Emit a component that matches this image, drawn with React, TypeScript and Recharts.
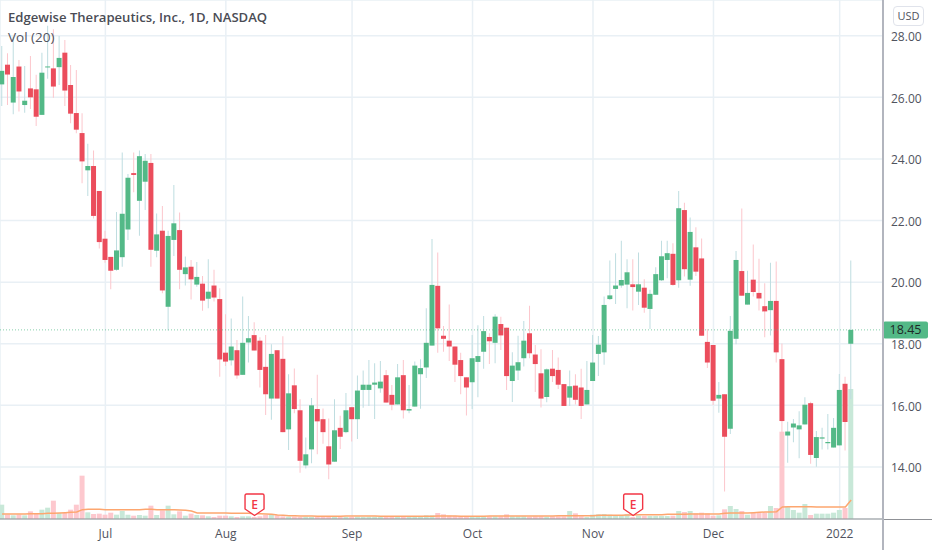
import React from 'react';
import { ComposedChart, Bar, Line, Cell, XAxis, YAxis, CartesianGrid, ReferenceLine, ReferenceDot } from 'recharts';

const opens = [26.42,27.06,25.83,27.00,25.75,26.29,26.26,25.43,26.97,26.94,26.98,27.45,26.40,25.49,24.84,23.63,23.77,22.96,21.41,20.82,20.40,20.81,21.71,23.54,22.64,23.26,23.87,21.02,21.67,19.20,21.37,21.69,20.26,20.50,19.92,19.95,19.46,19.89,19.45,17.71,17.46,17.79,16.99,18.04,18.28,18.10,17.25,16.22,17.79,17.51,15.22,16.65,15.84,14.05,14.57,15.88,15.55,14.67,14.17,15.27,15.13,15.94,15.55,16.50,16.50,16.67,16.55,16.98,16.34,16.03,16.98,15.83,15.96,17.01,17.23,17.94,19.88,18.26,18.10,17.91,17.47,16.91,16.75,17.41,17.74,18.22,18.03,18.64,18.52,16.79,17.13,17.53,18.34,17.65,17.04,16.27,17.19,17.15,16.69,16.25,16.64,16.58,16.03,16.79,17.67,17.72,19.45,19.78,19.89,19.92,19.93,19.69,19.82,19.13,19.59,20.06,20.72,20.92,20.06,22.34,20.08,21.13,20.77,18.06,17.96,16.22,16.36,15.24,18.16,20.36,19.27,20.08,19.65,19.22,19.09,19.39,17.50,15.02,15.28,15.22,15.38,16.07,14.29,14.92,14.77,14.63,14.70,16.70,18.00];
const highs = [27.67,27.43,27.97,27.21,27.02,27.34,26.73,27.45,28.32,28.21,27.99,27.86,27.05,26.89,25.48,24.49,24.27,22.96,21.67,20.82,22.28,24.21,23.51,24.21,24.27,24.16,24.16,22.23,22.47,21.67,23.15,22.26,20.83,20.72,20.65,20.20,20.74,20.40,19.80,18.96,18.82,18.12,19.53,18.90,18.70,18.21,18.28,17.98,17.79,18.24,17.01,17.20,16.20,14.96,16.24,16.99,15.90,15.57,16.20,15.66,16.40,15.94,16.97,17.13,17.47,17.37,17.44,17.15,16.66,17.34,17.47,16.66,17.42,17.50,19.15,21.40,20.96,18.58,19.27,17.91,17.71,16.91,18.28,18.60,18.90,18.34,18.96,18.88,18.52,17.72,18.26,18.74,19.23,17.96,17.82,17.20,17.80,17.55,16.69,17.13,17.01,17.19,17.44,18.28,18.25,19.53,20.70,20.94,21.34,20.74,20.74,20.96,20.09,19.75,20.48,21.34,21.34,21.26,22.96,22.58,22.10,21.78,21.42,18.48,17.96,16.76,16.36,18.90,21.01,22.39,20.37,21.22,20.76,19.96,20.63,20.67,18.01,15.47,15.56,15.81,16.26,16.12,15.17,15.27,15.72,15.59,17.02,16.93,20.70];
const lows = [25.72,25.75,25.45,25.54,25.50,25.62,25.07,25.43,26.60,25.99,26.40,25.72,25.16,24.83,23.21,22.80,22.07,21.09,20.63,19.77,20.37,20.50,21.37,22.92,21.51,22.34,20.50,20.81,19.64,18.43,20.85,19.77,19.89,19.44,19.85,19.07,19.15,19.37,16.93,17.28,17.29,16.86,16.99,17.39,17.78,16.58,15.69,15.53,16.22,15.13,14.55,15.74,13.81,13.95,14.12,14.41,14.75,13.60,14.17,14.58,15.09,14.83,14.91,15.92,15.98,15.56,16.41,16.09,15.84,16.03,15.57,15.74,15.96,15.89,16.89,17.94,17.71,17.74,17.44,16.76,16.36,15.67,15.88,16.26,17.19,17.34,17.37,17.80,16.50,16.11,16.82,17.26,17.53,16.43,15.93,16.10,16.76,16.53,15.98,15.98,16.03,15.56,16.03,16.79,16.95,17.32,19.42,19.29,19.82,19.15,19.08,19.26,19.01,18.48,19.59,20.04,20.13,19.88,19.82,20.18,19.88,20.20,18.26,17.21,16.01,15.76,13.20,15.07,17.98,19.56,19.27,19.53,19.08,18.21,18.27,17.39,14.50,14.14,14.80,14.28,15.38,14.10,14.01,14.57,14.57,14.63,14.70,14.53,16.21];
const closes = [26.86,26.74,26.66,26.19,25.89,26.00,25.37,26.80,27.00,26.35,27.28,26.22,25.47,24.95,23.92,23.77,22.15,21.30,20.72,20.37,21.03,22.22,23.39,23.48,24.09,23.94,21.05,21.55,19.73,21.50,21.91,20.40,20.48,20.09,20.17,19.40,19.69,19.50,17.49,17.42,17.91,16.97,18.03,18.18,17.78,17.15,16.36,17.67,16.22,15.13,16.39,15.88,14.20,14.41,16.00,15.48,15.13,14.08,15.19,14.98,15.84,15.55,16.48,16.67,16.67,16.74,16.77,16.09,16.02,16.91,15.84,15.88,17.29,17.21,18.03,19.91,18.50,18.16,17.91,17.32,16.95,16.58,17.53,17.60,18.41,18.08,18.88,18.27,16.95,17.29,17.40,18.10,17.69,17.34,16.22,17.17,16.95,16.67,15.98,16.62,16.18,15.98,16.50,17.39,17.97,19.26,19.57,19.89,20.07,20.32,19.84,19.93,19.17,19.62,20.26,20.84,20.94,19.91,22.40,20.42,21.63,20.34,18.26,17.39,16.15,16.34,14.98,18.42,20.72,19.56,19.65,19.68,19.47,19.05,19.39,17.72,15.49,15.15,15.41,15.35,16.02,14.39,14.97,14.96,14.81,15.27,16.50,15.46,18.45];
// volume in thousands of shares
const volumes = [215,65,55,65,55,115,75,140,170,275,90,90,140,215,650,100,75,80,65,95,65,120,65,50,60,50,200,60,130,200,70,115,50,80,60,55,40,30,50,50,40,30,40,40,30,40,60,75,55,40,35,35,30,35,30,35,30,30,30,35,30,30,35,30,35,35,30,35,30,30,35,35,30,45,55,55,90,70,50,45,40,40,40,35,40,40,40,40,70,40,40,40,35,40,40,35,40,40,40,120,85,40,30,65,70,75,65,55,60,75,30,50,45,45,45,45,45,50,120,105,120,85,95,85,50,55,145,195,150,120,65,90,95,95,195,165,1310,185,135,95,225,60,80,80,80,95,135,165,1950];
const volumeMa = [75,75,75,75,75,80,80,80,85,85,90,95,100,105,140,145,145,145,140,140,140,140,140,140,140,145,145,140,140,140,140,135,130,120,90,90,90,90,90,90,85,85,85,85,80,80,75,70,60,55,50,50,45,45,45,40,40,40,40,40,45,45,45,45,45,45,40,40,40,40,40,40,40,40,40,40,45,45,45,45,40,40,40,40,40,45,45,45,45,45,45,45,45,45,45,45,45,50,50,50,50,50,50,50,55,55,55,55,55,60,60,65,65,65,65,65,70,70,70,70,75,75,75,75,75,75,85,90,90,90,90,95,100,105,105,110,180,185,185,185,185,185,180,180,180,180,180,180,285];

const monthTicks = [18, 39, 61, 82, 103, 124, 146];
const monthLabels = ['Jul', 'Aug', 'Sep', 'Oct', 'Nov', 'Dec', '2022'];
const priceTicks = [14, 16, 18, 20, 22, 24, 26, 28];
const earnings = [44, 110];
const lastPrice = 18.45;

const UP = '#53b987';
const DOWN = '#eb4d5c';
const UP_WICK = '#bedde0';
const DOWN_WICK = '#fcc6cc';
const UP_VOL = '#c8e8d8';
const DOWN_VOL = '#fdc8ce';
const GRID = '#e9f0f5';
const AXIS = '#b2b5be';
const TEXT = '#50535e';
const FONT = '"Open Sans", "Noto Sans", sans-serif';

const data = opens.map((o, i) => ({
  idx: i,
  up: closes[i] >= o,
  wick: [lows[i], highs[i]],
  body: [Math.min(o, closes[i]), Math.max(o, closes[i])],
  volume: volumes[i],
  volumeMa: volumeMa[i],
}));
// empty slots to the right of the last bar
for (let i = opens.length; i < 154; i++) {
  data.push({ idx: i } as any);
}

const pad = { left: -0.75, right: 0.3 };

const EarningsMark = ({ cx }: any) => (
  <g transform={`translate(${cx}, 494)`}>
    <path d="M-9.5 1.5 Q-9.5 0 -8 0 L8 0 Q9.5 0 9.5 1.5 L9.5 15 L0 21.5 L-9.5 15 Z" fill="#fff" stroke="#f23645" strokeWidth={1.4} />
    <text x={0} y={15} textAnchor="middle" fontSize={12} fontWeight={600} fontFamily={FONT} fill="#f23645">E</text>
  </g>
);

const PriceTag = ({ viewBox }: any) => {
  const y = viewBox.y;
  return (
    <g>
      <rect x={883} y={y - 8.5} width={45} height={17} rx={2} fill={UP} />
      <text x={905.5} y={y + 4.5} textAnchor="middle" fontSize={12.5} fontFamily={FONT} fill="#1f2a28">18.45</text>
    </g>
  );
};

export default function App() {
  return (
    <div style={{ position: 'fixed', left: 0, top: 0, width: 932, height: 550, overflow: 'hidden', background: '#fff', fontFamily: FONT }}>
      <ComposedChart width={932} height={550} data={data} margin={{ top: 0, right: 0, bottom: 0, left: 0 }} barGap={0}>
        <CartesianGrid stroke={GRID} strokeWidth={1.5} ticks={priceTicks as any} yAxisId="price" />
        <XAxis
          dataKey="idx"
          ticks={monthTicks}
          interval={0}
          height={31}
          padding={pad}
          tickLine={false}
          tickMargin={4}
          axisLine={{ stroke: '#8f9196', strokeWidth: 1.2 }}
          tick={{ fontSize: 12, fill: TEXT, fontFamily: FONT }}
          tickFormatter={(v: number) => monthLabels[monthTicks.indexOf(v)]}
        />
        <XAxis xAxisId="wicks" dataKey="idx" hide padding={pad} />
        <XAxis xAxisId="bodies" dataKey="idx" hide padding={pad} />
        <YAxis
          yAxisId="price"
          orientation="right"
          width={49}
          domain={[12.31, 29.16]}
          allowDataOverflow
          ticks={priceTicks}
          interval={0}
          tickLine={false}
          axisLine={{ stroke: AXIS, strokeWidth: 2 }}
          tick={{ fontSize: 12, fill: TEXT, fontFamily: FONT, dy: 1 }}
          tickFormatter={(v: number) => v.toFixed(2)}
        />
        <YAxis yAxisId="vol" hide domain={[0, 7785]} allowDataOverflow />
        <Bar yAxisId="vol" dataKey="volume" barSize={5} isAnimationActive={false}>
          {data.map((d, i) => <Cell key={i} fill={d.up ? UP_VOL : DOWN_VOL} />)}
        </Bar>
        <Line yAxisId="vol" dataKey="volumeMa" stroke="#fda66f" strokeWidth={1.5} dot={false} activeDot={false} connectNulls={false} isAnimationActive={false} />
        <ReferenceLine
          yAxisId="price"
          y={lastPrice}
          stroke={UP}
          strokeDasharray="1 2"
          strokeOpacity={0.7}
          label={<PriceTag />}
        />
        <Bar xAxisId="wicks" yAxisId="price" dataKey="wick" barSize={1} isAnimationActive={false}>
          {data.map((d, i) => <Cell key={i} fill={d.up ? UP_WICK : DOWN_WICK} />)}
        </Bar>
        <Bar xAxisId="bodies" yAxisId="price" dataKey="body" barSize={5} minPointSize={1} isAnimationActive={false}>
          {data.map((d, i) => <Cell key={i} fill={d.up ? UP : DOWN} />)}
        </Bar>
        {earnings.map((x) => (
          <ReferenceDot key={x} x={x} yAxisId="vol" y={0} shape={<EarningsMark />} ifOverflow="visible" />
        ))}
      </ComposedChart>
      <div style={{ position: 'absolute', left: 8, top: 8, fontSize: 13.1, fontWeight: 600, color: '#4a4c55', whiteSpace: 'nowrap' }}>
        Edgewise Therapeutics, Inc., 1D, NASDAQ
      </div>
      <div style={{ position: 'absolute', left: 8, top: 28, fontSize: 13.5, color: TEXT, whiteSpace: 'nowrap' }}>Vol (20)</div>
      <div style={{ position: 'absolute', left: 893, top: 6, width: 29, height: 18, lineHeight: '18px', textAlign: 'center', fontSize: 11, color: TEXT, border: '1px solid #e0e3eb', borderRadius: 4 }}>USD</div>
      <div style={{ position: 'absolute', left: 883, top: 519, width: 49, height: 1.2, background: '#8f9196' }} />
      <div style={{ position: 'absolute', left: 882, top: 519, width: 2, height: 31, background: AXIS }} />
    </div>
  );
}
